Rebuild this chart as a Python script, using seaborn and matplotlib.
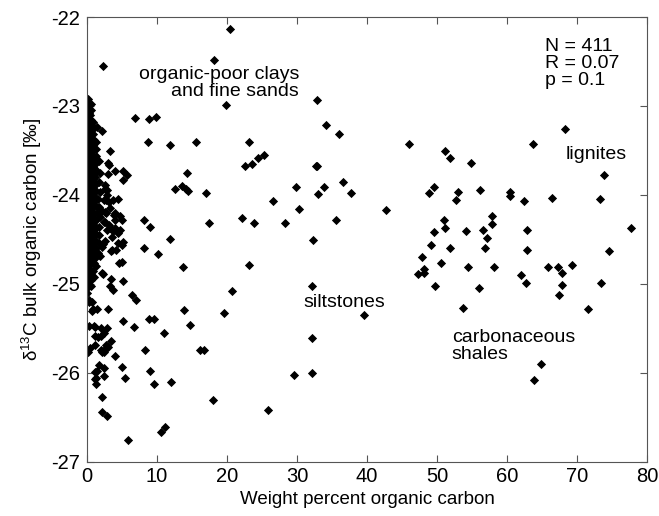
from matplotlib import pyplot as plt
import numpy as np
import pandas as pd
import seaborn as sns

# scattered samples
wt_scatter = [
    2.3, 18.2, 20.4, 19.9, 32.8, 34.1, 6.9, 8.9, 9.8, 8.7, 11.9, 15.6, 23.2, 22.6, 23.5, 24.4,
    25.3, 32.7, 32.9, 3.3, 3.05, 3.2, 4.0, 5.1, 5.67, 5.1, 3.05, 14.3, 12.5, 13.6, 14.1, 14.4,
    17.0, 29.8, 33.0, 33.8, 26.5, 30.3, 8.1, 8.96, 17.4, 22.2, 23.8, 28.3, 11.8, 8.1, 10.1, 32.3,
    36.0, 46.0, 51.2, 51.8, 54.9, 63.7, 68.3, 73.9, 36.6, 37.7, 42.7, 48.9, 49.5, 53.0, 52.7, 56.1,
    60.4, 60.4, 62.4, 66.4, 73.2, 35.6, 51.0, 51.2, 49.6, 54.2, 56.6, 57.1, 57.8, 57.9, 62.9, 77.7,
    49.1, 51.8, 56.9, 62.9, 74.5, 47.8, 47.3, 48.2, 48.2, 50.6, 54.4, 58.2, 62.0, 62.7, 65.9, 67.3,
    69.3, 67.8, 67.9, 67.4, 73.4, 49.7, 56.0, 53.7, 71.5, 39.5, 64.9, 63.9, 13.7, 23.1, 32.2, 20.7,
    13.9, 19.6, 8.86, 9.57, 14.7, 11.0, 32.2, 16.1, 16.7, 8.3, 9.0, 9.6, 12.0, 29.5, 32.2, 18.0,
    25.8, 10.6, 11.1, 5.8, 5.1, 6.7, 5.2, 6.4, 7.0, 5.5, 4.95, 4.0, 3.5, 3.05, 3.5, 3.3,
    3.67, 2.3, 2.95, 2.5, 2.1, 2.47, 1.6, 1.7, 1.36, 1.3, 1.3, 2.47, 2.43, 2.2, 2.14, 2.81,
    0.2, 1.2, 0.3, 0.7, 0.3, 0.07, 1.38, 2.1, 2.57, 2.8, 2.9, 4.5, 3.76, 2.7, 2.1, 2.7,
    4.0, 4.7, 4.95, 2.57, 3.3, 3.76, 4.7, 2.3, 3.5, 4.2, 4.95, 5.2, 4.6, 4.95, 1.6, 1.4,
    2.2, 0.9, 1.47, 0.95, 2.0, 2.9, 1.14, 1.95, 0.43, 1.14, 2.7, 1.95, 2.43, 1.19, 1.14, 0.33,
    0.67, 2.6, 2.4, 3.1, 2.6, 3.3, 3.8, 4.05, 2.4, 3.1, 2.86, 4.05, 4.5, 3.6, 2.6, 2.14,
    3.6, 4.5, 1.9,
]
d13c_scatter = [
    -22.55, -22.48, -22.14, -22.99, -22.93, -23.21, -23.13, -23.15, -23.12, -23.41, -23.44, -23.40, -23.41, -23.68, -23.65, -23.58,
    -23.55, -23.67, -23.67, -23.51, -23.64, -23.66, -23.73, -23.73, -23.78, -23.83, -23.76, -23.75, -23.93, -23.90, -23.93, -23.96,
    -23.98, -23.91, -23.99, -23.91, -24.07, -24.16, -24.28, -24.36, -24.32, -24.26, -24.31, -24.31, -24.50, -24.60, -24.66, -24.51,
    -23.31, -23.43, -23.51, -23.58, -23.64, -23.43, -23.26, -23.78, -23.85, -23.98, -24.17, -23.98, -23.91, -23.97, -24.06, -23.94,
    -23.97, -24.01, -24.07, -24.03, -24.04, -24.28, -24.28, -24.37, -24.42, -24.40, -24.39, -24.48, -24.24, -24.33, -24.39, -24.37,
    -24.56, -24.60, -24.60, -24.62, -24.63, -24.70, -24.89, -24.88, -24.83, -24.76, -24.81, -24.81, -24.90, -24.99, -24.81, -24.81,
    -24.79, -24.88, -25.01, -25.12, -24.99, -25.02, -25.05, -25.27, -25.28, -25.35, -25.90, -26.08, -24.81, -24.79, -25.02, -25.08,
    -25.29, -25.33, -25.40, -25.39, -25.46, -25.55, -25.61, -25.74, -25.74, -25.74, -25.98, -26.12, -26.10, -26.02, -26.00, -26.31,
    -26.42, -26.66, -26.61, -26.76, -24.97, -25.49, -25.42, -25.12, -25.18, -26.06, -25.93, -25.81, -25.64, -25.28, -24.94, -25.02,
    -25.07, -24.89, -25.71, -25.77, -25.76, -25.55, -25.60, -25.91, -25.98, -26.06, -26.13, -26.04, -25.95, -26.27, -26.44, -26.49,
    -25.76, -25.48, -25.47, -25.30, -25.20, -25.10, -23.24, -23.28, -23.89, -23.94, -24.00, -24.04, -24.06, -24.06, -24.18, -24.20,
    -24.20, -24.24, -24.28, -24.30, -24.37, -24.41, -24.39, -24.55, -24.63, -24.62, -24.56, -24.53, -24.76, -24.75, -24.65, -24.67,
    -24.88, -25.28, -25.28, -25.47, -25.50, -25.50, -25.59, -25.59, -25.72, -25.69, -25.69, -25.74, -25.74, -26.07, -25.99, -25.18,
    -25.20, -23.93, -24.06, -24.08, -24.19, -24.15, -24.22, -24.28, -24.30, -24.34, -24.39, -24.37, -24.43, -24.47, -24.52, -24.58,
    -24.62, -24.54, -24.69,
]

# dense column of low-TOC samples hugging the y axis
wt_dense = [
    0.10, 0.25, 0.15, 0.30, 0.05, 0.20, 0.12, 0.28, 0.08, 0.22, 0.15, 0.30, 0.06, 0.18, 0.26, 0.10,
    0.24, 0.14, 0.30, 0.07, 0.20, 0.12, 0.27, 0.09, 0.22, 0.16, 0.30, 0.05, 0.19, 0.25, 0.11, 0.28,
    0.14, 0.21, 0.08, 0.26, 0.17, 0.10, 0.29, 0.13, 0.23, 0.06, 0.18, 0.27, 0.11, 0.20, 0.15,
    0.52, 0.60, 0.48, 0.57, 0.63, 0.50, 0.55, 0.61, 0.47, 0.58, 0.53, 0.64, 0.49, 0.56, 0.60, 0.51,
    0.62, 0.46, 0.57, 0.54, 0.65, 0.50, 0.59, 0.48, 0.55, 0.62, 0.52, 0.58, 0.47, 0.61, 0.53, 0.56,
    0.64, 0.49, 0.57, 0.51, 0.60, 0.55,
    0.88, 0.95, 0.85, 0.98, 0.90, 0.84, 0.96, 0.92, 0.87, 1.00, 0.89, 0.94, 0.86, 0.97, 0.91, 0.85,
    0.99, 0.93, 0.88, 0.95, 0.84, 0.97, 0.90, 0.92, 0.86, 0.98, 0.89, 0.94,
    1.25, 1.32, 1.22, 1.35, 1.28, 1.20, 1.33, 1.26, 1.30, 1.23, 1.36, 1.27, 1.21, 1.34, 1.29, 1.24,
    1.31, 1.25,
    1.65, 1.80, 1.70, 1.88, 1.62, 1.75, 1.85, 1.68, 1.78, 1.72,
]
d13c_dense = [
    -22.92, -22.97, -23.03, -23.08, -23.12, -23.17, -23.21, -23.26, -23.30, -23.35, -23.39, -23.44, -23.48, -23.53, -23.57, -23.62,
    -23.66, -23.71, -23.75, -23.80, -23.84, -23.89, -23.93, -23.98, -24.02, -24.07, -24.11, -24.16, -24.20, -24.25, -24.29, -24.34,
    -24.38, -24.43, -24.47, -24.52, -24.56, -24.61, -24.65, -24.70, -24.74, -24.79, -24.83, -24.88, -24.93, -24.98, -25.04,
    -22.98, -23.05, -23.10, -23.16, -23.22, -23.27, -23.33, -23.38, -23.43, -23.49, -23.54, -23.60, -23.65, -23.70, -23.76, -23.81,
    -23.87, -23.92, -23.97, -24.03, -24.08, -24.14, -24.19, -24.24, -24.30, -24.35, -24.41, -24.46, -24.51, -24.57, -24.62, -24.68,
    -24.73, -24.78, -24.84, -24.90, -24.96, -25.02,
    -23.18, -23.25, -23.31, -23.38, -23.44, -23.50, -23.57, -23.63, -23.69, -23.76, -23.82, -23.88, -23.95, -24.01, -24.07, -24.14,
    -24.20, -24.26, -24.33, -24.39, -24.45, -24.52, -24.58, -24.64, -24.71, -24.77, -24.85, -24.92,
    -23.40, -23.48, -23.56, -23.64, -23.72, -23.80, -23.88, -23.96, -24.04, -24.12, -24.20, -24.28, -24.36, -24.44, -24.52, -24.60,
    -24.70, -24.80,
    -23.62, -23.75, -23.86, -23.97, -24.05, -24.14, -24.25, -24.36, -24.45, -24.54,
]

x_ticks = [0, 10, 20, 30, 40, 50, 60, 70, 80]
y_ticks = [-27, -26, -25, -24, -23, -22]

df = pd.DataFrame({
    "toc": wt_scatter + wt_dense,
    "d13c": d13c_scatter + d13c_dense,
})

sns.set_theme(style="ticks")
plt.rcParams["font.family"] = ["Liberation Sans", "DejaVu Sans"]
plt.rcParams["mathtext.fontset"] = "custom"
plt.rcParams["mathtext.rm"] = "Liberation Sans"
plt.rcParams["axes.unicode_minus"] = False

fig = plt.figure(figsize=(6.59, 5.16), dpi=100)
ax = fig.add_axes([0.132, 0.105, 0.85, 0.862])

sns.scatterplot(data=df, x="toc", y="d13c", marker="D", color="black",
                s=22, linewidth=0, ax=ax, legend=False)

ax.set_xlim(0, 80)
ax.set_ylim(-27, -22)
ax.set_xticks(x_ticks)
ax.set_yticks(y_ticks)
ax.set_xticklabels([str(t) for t in x_ticks])
ax.set_yticklabels([str(t) for t in y_ticks])
ax.tick_params(direction="in", length=5, width=0.8, top=True, right=True,
               labelsize=14.5, color="#555555", labelcolor="black")
ax.tick_params(axis="x", pad=4)
ax.tick_params(axis="y", pad=5)
for sp in ax.spines.values():
    sp.set_linewidth(0.8)
    sp.set_color("#555555")

ax.set_xlabel("Weight percent organic carbon", fontsize=13.5, labelpad=3, color="black")
ax.set_ylabel("δ$^{13}$C bulk organic carbon [‰]", fontsize=13.5, labelpad=5, color="black")

txt = dict(fontsize=14, color="black")
ax.text(30.3, -22.74, "organic-poor clays\nand fine sands", ha="right", va="center",
        multialignment="right", linespacing=1.0, **txt)
ax.text(65.4, -22.52, "N = 411\nR = 0.07\np = 0.1", ha="left", va="center",
        linespacing=1.0, **txt)
ax.text(68.3, -23.55, "lignites", ha="left", va="center", **txt)
ax.text(30.9, -25.21, "siltstones", ha="left", va="center", **txt)
ax.text(52.1, -25.70, "carbonaceous\nshales", ha="left", va="center",
        linespacing=1.0, **txt)

fig.savefig("out.png", dpi=100)
